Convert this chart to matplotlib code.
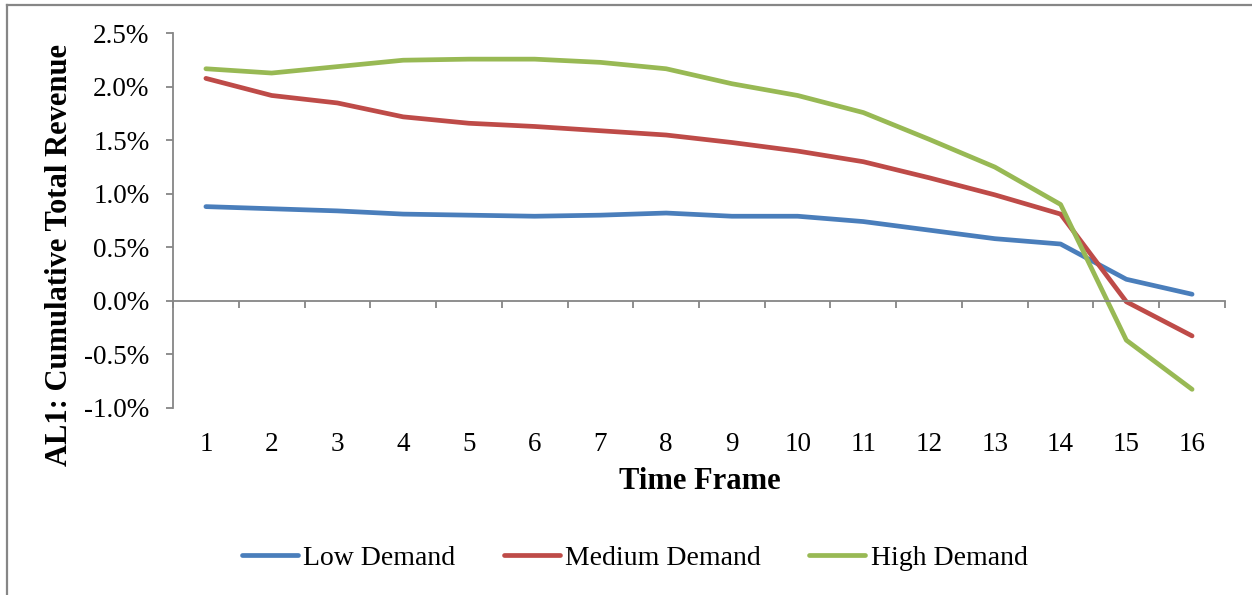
import matplotlib
matplotlib.use("Agg")
import matplotlib.pyplot as plt
from matplotlib.ticker import PercentFormatter, FixedLocator
from matplotlib.lines import Line2D

# Cumulative total revenue change per time frame (fractions)
time_frames = list(range(1, 17))
tick_labels = [str(t) for t in time_frames]

low_demand = [0.0088, 0.0086, 0.0084, 0.0081, 0.0080, 0.0079, 0.0080, 0.0082,
              0.0079, 0.0079, 0.0074, 0.0066, 0.0058, 0.0053, 0.0020, 0.0006]
medium_demand = [0.0208, 0.0192, 0.0185, 0.0172, 0.0166, 0.0163, 0.0159, 0.0155,
                 0.0148, 0.0140, 0.0130, 0.0115, 0.0099, 0.0081, -0.0001, -0.0033]
high_demand = [0.0217, 0.0213, 0.0219, 0.0225, 0.0226, 0.0226, 0.0223, 0.0217,
               0.0203, 0.0192, 0.0176, 0.0151, 0.0125, 0.0090, -0.0037, -0.0083]

series_names = ["Low Demand", "Medium Demand", "High Demand"]
series_colors = ["#4A7EBB", "#BE4B48", "#98B954"]

plt.rcParams["font.family"] = ["Liberation Serif", "DejaVu Serif"]
plt.rcParams["axes.unicode_minus"] = False
axis_gray = "#868686"
text_size = 19.5
title_size = 22

fig = plt.figure(figsize=(12.52, 5.95), dpi=100)
ax = fig.add_axes([0.1382, 0.3151, 0.8402, 0.6286])

for values, name, color in zip([low_demand, medium_demand, high_demand],
                               series_names, series_colors):
    ax.plot(time_frames, values, color=color, lw=3.4, label=name,
            solid_capstyle="round", solid_joinstyle="round")

ax.set_xlim(0.5, 16.5)
ax.set_ylim(-0.010, 0.025)
ax.set_yticks([-0.010, -0.005, 0.0, 0.005, 0.010, 0.015, 0.020, 0.025])
ax.yaxis.set_major_formatter(PercentFormatter(1.0, decimals=1))

# Category axis crosses at zero, with ticks between categories
for side in ("top", "right"):
    ax.spines[side].set_visible(False)
ax.spines["bottom"].set_position(("data", 0))
for side in ("left", "bottom"):
    ax.spines[side].set_color(axis_gray)
    ax.spines[side].set_linewidth(1.3)

ax.xaxis.set_major_locator(FixedLocator([t + 0.5 for t in range(0, 17)]))
ax.tick_params(axis="x", direction="out", length=5, width=1.3,
               color=axis_gray, labelbottom=False)
ax.tick_params(axis="y", direction="out", length=5, width=1.3,
               color=axis_gray, labelsize=text_size, pad=12)

# Category labels sit below the plot area
sec = ax.secondary_xaxis("bottom")
sec.set_xticks(time_frames, tick_labels)
sec.tick_params(length=0, labelsize=text_size, pad=17.5)
sec.spines["bottom"].set_visible(False)

fig.text(0.0479, 0.5714, "AL1: Cumulative Total Revenue", fontsize=title_size,
         fontweight="bold", rotation=90, ha="center", va="center")
fig.text(0.559, 0.19, "Time Frame", fontsize=title_size, fontweight="bold",
         ha="center", va="center")

handles = [Line2D([], [], color=c, lw=3.4, solid_capstyle="round")
           for c in series_colors]
fig.legend(handles, series_names, loc="center", bbox_to_anchor=(0.507, 0.062),
           ncol=3, frameon=False, fontsize=20, handlelength=2.0,
           handletextpad=0.2, columnspacing=1.75)

# Chart frame edges
fig.add_artist(Line2D([0.0055, 0.0055], [0.0, 0.9916], color=axis_gray,
                      lw=1.6, transform=fig.transFigure))
fig.add_artist(Line2D([0.0055, 1.0], [0.9916, 0.9916], color=axis_gray,
                      lw=1.6, transform=fig.transFigure))

fig.savefig("out.png", dpi=100, facecolor="white")
